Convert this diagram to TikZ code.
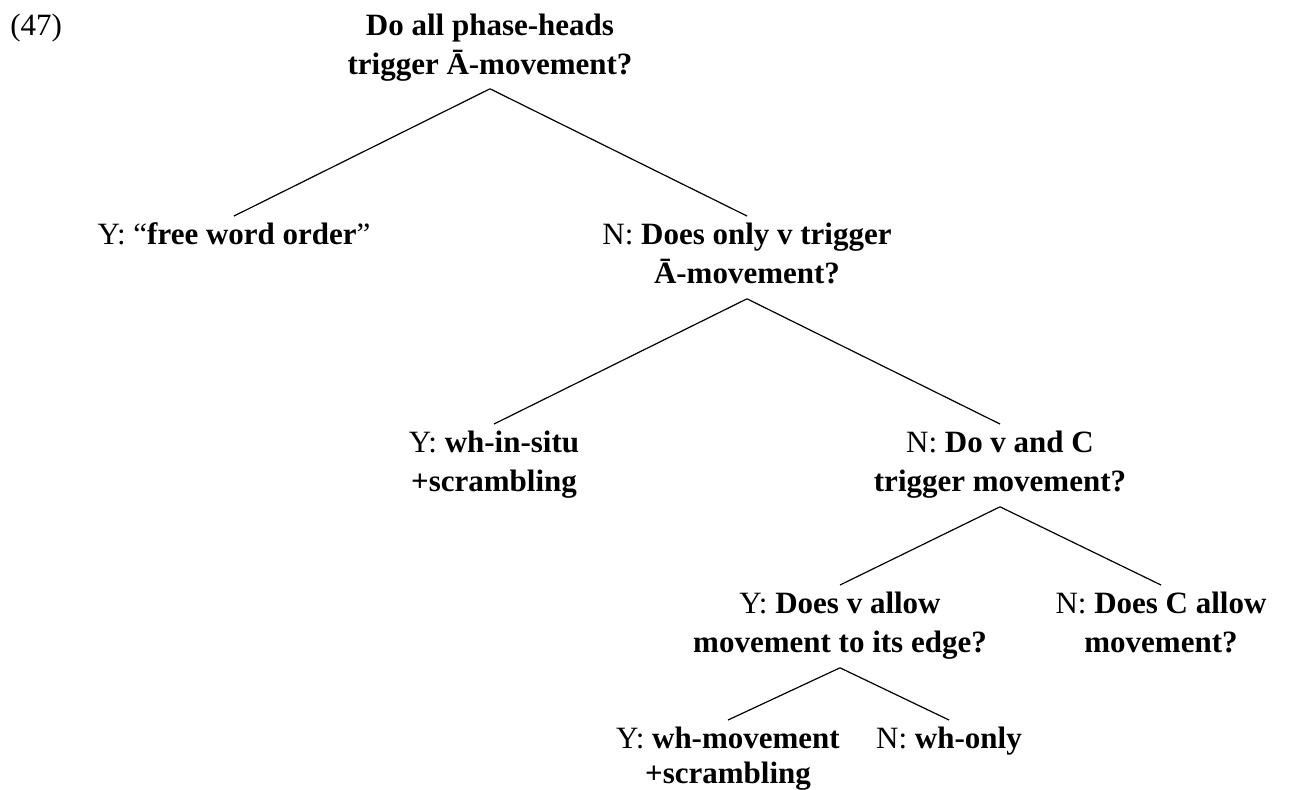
\documentclass[tikz,border=0pt]{standalone}
\usepackage{fontspec}
\setmainfont{Liberation Serif}
\newcommand\topstrut{\rule{0pt}{12pt}}
\newcommand\botstrut{\rule[-4pt]{0pt}{4pt}}
\begin{document}
\begin{tikzpicture}[x=0.5pt,y=-0.5pt,
  tnode/.style={align=center,anchor=north,inner sep=0pt,font=\fontsize{15.5}{19.5}\selectfont},
  branch/.style={line width=0.6pt}]
\useasboundingbox (0,0) rectangle (1289,789);
\node[anchor=base west,inner sep=0pt,font=\fontsize{15.5}{19.5}\selectfont] (ex) at (10,35) {(47)};
\node[tnode] (root) at (490,11) {\topstrut\textbf{Do all phase-heads}\\\textbf{trigger Ā-movement?}\botstrut};
\node[tnode] (l2a) at (234,220) {\topstrut Y: “\textbf{free word order}”\botstrut};
\node[tnode] (l2b) at (747,220) {\topstrut N: \textbf{Does only v trigger}\\\textbf{Ā-movement?}\botstrut};
\node[tnode] (l3a) at (494,428) {\topstrut Y: \textbf{wh-in-situ}\\\textbf{+scrambling}\botstrut};
\node[tnode] (l3b) at (1000,428) {\topstrut N: \textbf{Do v and C}\\\textbf{trigger movement?}\botstrut};
\node[tnode] (l4a) at (840,589) {\topstrut Y: \textbf{Does v allow}\\\textbf{movement to its edge?}\botstrut};
\node[tnode] (l4b) at (1161,589) {\topstrut N: \textbf{Does C allow}\\\textbf{movement?}\botstrut};
\node[tnode,font=\fontsize{15.5}{17.5}\selectfont] (l5a) at (728,724) {\topstrut Y: \textbf{wh-movement}\\\textbf{+scrambling}\botstrut};
\node[tnode] (l5b) at (949,724) {\topstrut N: \textbf{wh-only}\botstrut};
\draw[branch] ([yshift=-3pt]root.south) -- ([yshift=2pt]l2a.north);
\draw[branch] ([yshift=-3pt]root.south) -- ([yshift=2pt]l2b.north);
\draw[branch] ([yshift=-3.5pt]l2b.south) -- ([yshift=2pt]l3a.north);
\draw[branch] ([yshift=-3.5pt]l2b.south) -- ([yshift=2pt]l3b.north);
\draw[branch] ([yshift=-3.5pt]l3b.south) -- ([yshift=2pt]l4a.north);
\draw[branch] ([yshift=-3.5pt]l3b.south) -- ([yshift=2pt]l4b.north);
\draw[branch] ([yshift=-3.5pt]l4a.south) -- ([yshift=2pt]l5a.north);
\draw[branch] ([yshift=-3.5pt]l4a.south) -- ([yshift=2pt]l5b.north);
\end{tikzpicture}
\end{document}
